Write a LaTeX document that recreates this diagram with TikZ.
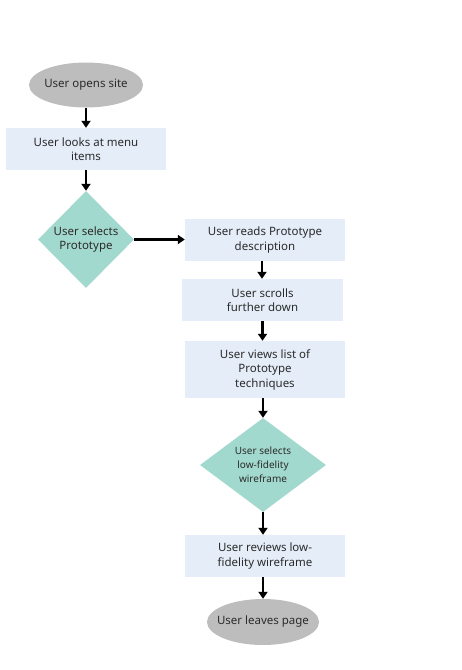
\documentclass[tikz,border=0pt]{standalone}
\usepackage{fontspec}
\setmainfont{Noto Sans}
\usetikzlibrary{shapes.geometric,arrows.meta}
\definecolor{termgray}{HTML}{BDBDBD}
\definecolor{stepblue}{HTML}{E5EDF8}
\definecolor{choiceteal}{HTML}{A2D9CE}
\definecolor{txt}{HTML}{2B2B2B}
\tikzset{
  base/.style={inner sep=0pt, align=center, text=txt, font=\fontsize{11.5}{14.5}\selectfont},
  terminal/.style={ellipse, inner sep=0pt, fill=termgray, minimum width=114pt, minimum height=45pt},
  stepbox/.style={base, rectangle, fill=stepblue, minimum width=160pt, minimum height=42pt},
  choice/.style={diamond, inner sep=0pt, fill=choiceteal, aspect=1},
  arr/.style={line width=2.2pt, -{Triangle[length=7pt,width=9pt]}, black}
}
\begin{document}
\begin{tikzpicture}[x=1pt,y=-1pt]
\useasboundingbox (0,0) rectangle (462,670);

% shapes (text is set on top, so it does not stretch the outlines)
\node[terminal] (open) at (86,85) {};
\node[base] at (open) {User opens site};
\node[stepbox] (menu) at (86,149) {User looks at menu\\items};
\node[choice, minimum width=96pt, minimum height=97pt] (select) at (86,239.5) {};
\node[base] at (select) {User selects\\Prototype};

\node[stepbox] (read) at (265,240) {User reads Prototype\\description};
\node[stepbox, minimum width=161pt] (scroll) at (262.5,300) {User scrolls\\further down};
\node[stepbox, minimum height=57pt] (list) at (265,369.5) {User views list of\\Prototype\\techniques};
\node[choice, minimum width=126pt, minimum height=94pt] (lowfi) at (263,465) {};
\node[base, font=\fontsize{10}{14}\selectfont] at (lowfi) {User selects\\low-fidelity\\wireframe};
\node[stepbox] (review) at (265,556) {User reviews low-\\fidelity wireframe};
\node[terminal, minimum width=112pt, minimum height=46pt] (leave) at (263,622) {};
\node[base] at (leave) {User leaves page};

% connectors
\draw[arr] (open) -- (menu);
\draw[arr] (menu) -- (select);
\draw[arr] (select.east) -- (read.west |- select.east);
\draw[arr] ([xshift=-3pt]read.south) -- ([xshift=-3pt]read.south |- scroll.north);
\draw[arr] (scroll.south) -- (scroll.south |- list.north);
\draw[arr] ([xshift=-2pt]list.south) -- (lowfi.north);
\draw[arr] (lowfi.south) -- (lowfi.south |- review.north);
\draw[arr] ([xshift=-2pt]review.south) -- (leave.north);
\end{tikzpicture}
\end{document}
